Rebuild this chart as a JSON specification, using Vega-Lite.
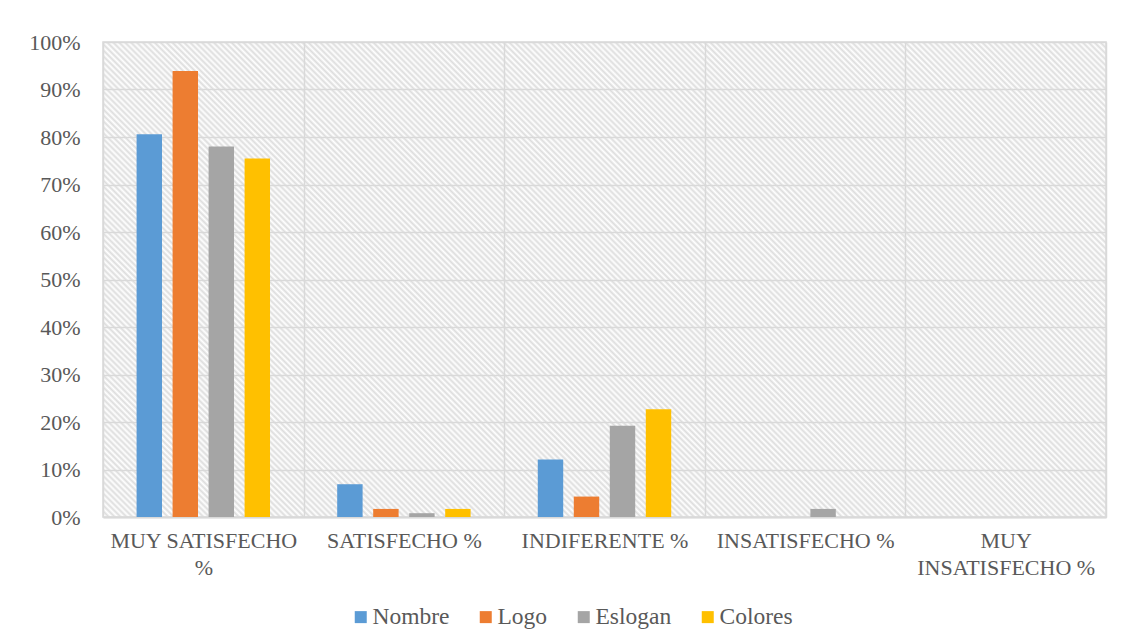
{
  "$schema": "https://vega.github.io/schema/vega-lite/v6.json",
  "width": 1003,
  "height": 475,
  "autosize": {"type": "none"},
  "padding": {"left": 103, "top": 42, "right": 16, "bottom": 127},
  "background": "#ffffff",
  "config": {
    "font": "'Liberation Serif', 'Times New Roman', serif",
    "view": {
      "stroke": "#d9d9d9",
      "strokeWidth": 1.5,
      "fill": {
        "gradient": "linear",
        "x1": 0, "y1": 1, "x2": 1.2036, "y2": 0.43,
        "stops": [
{"offset":0,"color":"#ddd"},{"offset":0.002,"color":"#fff"},{"offset":0.004,"color":"#ddd"},{"offset":0.006,"color":"#fff"},{"offset":0.008,"color":"#ddd"},{"offset":0.01,"color":"#fff"},{"offset":0.012,"color":"#ddd"},{"offset":0.014,"color":"#fff"},{"offset":0.016,"color":"#ddd"},{"offset":0.018,"color":"#fff"},
{"offset":0.02,"color":"#ddd"},{"offset":0.022,"color":"#fff"},{"offset":0.024,"color":"#ddd"},{"offset":0.026,"color":"#fff"},{"offset":0.028,"color":"#ddd"},{"offset":0.03,"color":"#fff"},{"offset":0.032,"color":"#ddd"},{"offset":0.034,"color":"#fff"},{"offset":0.036,"color":"#ddd"},{"offset":0.038,"color":"#fff"},
{"offset":0.04,"color":"#ddd"},{"offset":0.042,"color":"#fff"},{"offset":0.044,"color":"#ddd"},{"offset":0.046,"color":"#fff"},{"offset":0.048,"color":"#ddd"},{"offset":0.05,"color":"#fff"},{"offset":0.052,"color":"#ddd"},{"offset":0.054,"color":"#fff"},{"offset":0.056,"color":"#ddd"},{"offset":0.058,"color":"#fff"},
{"offset":0.06,"color":"#ddd"},{"offset":0.062,"color":"#fff"},{"offset":0.064,"color":"#ddd"},{"offset":0.066,"color":"#fff"},{"offset":0.068,"color":"#ddd"},{"offset":0.07,"color":"#fff"},{"offset":0.072,"color":"#ddd"},{"offset":0.074,"color":"#fff"},{"offset":0.076,"color":"#ddd"},{"offset":0.078,"color":"#fff"},
{"offset":0.08,"color":"#ddd"},{"offset":0.082,"color":"#fff"},{"offset":0.084,"color":"#ddd"},{"offset":0.086,"color":"#fff"},{"offset":0.088,"color":"#ddd"},{"offset":0.09,"color":"#fff"},{"offset":0.092,"color":"#ddd"},{"offset":0.094,"color":"#fff"},{"offset":0.096,"color":"#ddd"},{"offset":0.098,"color":"#fff"},
{"offset":0.1,"color":"#ddd"},{"offset":0.102,"color":"#fff"},{"offset":0.104,"color":"#ddd"},{"offset":0.106,"color":"#fff"},{"offset":0.108,"color":"#ddd"},{"offset":0.11,"color":"#fff"},{"offset":0.112,"color":"#ddd"},{"offset":0.114,"color":"#fff"},{"offset":0.116,"color":"#ddd"},{"offset":0.118,"color":"#fff"},
{"offset":0.12,"color":"#ddd"},{"offset":0.122,"color":"#fff"},{"offset":0.124,"color":"#ddd"},{"offset":0.126,"color":"#fff"},{"offset":0.128,"color":"#ddd"},{"offset":0.13,"color":"#fff"},{"offset":0.132,"color":"#ddd"},{"offset":0.134,"color":"#fff"},{"offset":0.136,"color":"#ddd"},{"offset":0.138,"color":"#fff"},
{"offset":0.14,"color":"#ddd"},{"offset":0.142,"color":"#fff"},{"offset":0.144,"color":"#ddd"},{"offset":0.146,"color":"#fff"},{"offset":0.148,"color":"#ddd"},{"offset":0.15,"color":"#fff"},{"offset":0.152,"color":"#ddd"},{"offset":0.154,"color":"#fff"},{"offset":0.156,"color":"#ddd"},{"offset":0.158,"color":"#fff"},
{"offset":0.16,"color":"#ddd"},{"offset":0.162,"color":"#fff"},{"offset":0.164,"color":"#ddd"},{"offset":0.166,"color":"#fff"},{"offset":0.168,"color":"#ddd"},{"offset":0.17,"color":"#fff"},{"offset":0.172,"color":"#ddd"},{"offset":0.174,"color":"#fff"},{"offset":0.176,"color":"#ddd"},{"offset":0.178,"color":"#fff"},
{"offset":0.18,"color":"#ddd"},{"offset":0.182,"color":"#fff"},{"offset":0.184,"color":"#ddd"},{"offset":0.186,"color":"#fff"},{"offset":0.188,"color":"#ddd"},{"offset":0.19,"color":"#fff"},{"offset":0.192,"color":"#ddd"},{"offset":0.194,"color":"#fff"},{"offset":0.196,"color":"#ddd"},{"offset":0.198,"color":"#fff"},
{"offset":0.2,"color":"#ddd"},{"offset":0.202,"color":"#fff"},{"offset":0.204,"color":"#ddd"},{"offset":0.206,"color":"#fff"},{"offset":0.208,"color":"#ddd"},{"offset":0.21,"color":"#fff"},{"offset":0.212,"color":"#ddd"},{"offset":0.214,"color":"#fff"},{"offset":0.216,"color":"#ddd"},{"offset":0.218,"color":"#fff"},
{"offset":0.22,"color":"#ddd"},{"offset":0.222,"color":"#fff"},{"offset":0.224,"color":"#ddd"},{"offset":0.226,"color":"#fff"},{"offset":0.228,"color":"#ddd"},{"offset":0.23,"color":"#fff"},{"offset":0.232,"color":"#ddd"},{"offset":0.234,"color":"#fff"},{"offset":0.236,"color":"#ddd"},{"offset":0.238,"color":"#fff"},
{"offset":0.24,"color":"#ddd"},{"offset":0.242,"color":"#fff"},{"offset":0.244,"color":"#ddd"},{"offset":0.246,"color":"#fff"},{"offset":0.248,"color":"#ddd"},{"offset":0.25,"color":"#fff"},{"offset":0.252,"color":"#ddd"},{"offset":0.254,"color":"#fff"},{"offset":0.256,"color":"#ddd"},{"offset":0.258,"color":"#fff"},
{"offset":0.26,"color":"#ddd"},{"offset":0.262,"color":"#fff"},{"offset":0.264,"color":"#ddd"},{"offset":0.266,"color":"#fff"},{"offset":0.268,"color":"#ddd"},{"offset":0.27,"color":"#fff"},{"offset":0.272,"color":"#ddd"},{"offset":0.274,"color":"#fff"},{"offset":0.276,"color":"#ddd"},{"offset":0.278,"color":"#fff"},
{"offset":0.28,"color":"#ddd"},{"offset":0.282,"color":"#fff"},{"offset":0.284,"color":"#ddd"},{"offset":0.286,"color":"#fff"},{"offset":0.288,"color":"#ddd"},{"offset":0.29,"color":"#fff"},{"offset":0.292,"color":"#ddd"},{"offset":0.294,"color":"#fff"},{"offset":0.296,"color":"#ddd"},{"offset":0.298,"color":"#fff"},
{"offset":0.3,"color":"#ddd"},{"offset":0.302,"color":"#fff"},{"offset":0.304,"color":"#ddd"},{"offset":0.306,"color":"#fff"},{"offset":0.308,"color":"#ddd"},{"offset":0.31,"color":"#fff"},{"offset":0.312,"color":"#ddd"},{"offset":0.314,"color":"#fff"},{"offset":0.316,"color":"#ddd"},{"offset":0.318,"color":"#fff"},
{"offset":0.32,"color":"#ddd"},{"offset":0.322,"color":"#fff"},{"offset":0.324,"color":"#ddd"},{"offset":0.326,"color":"#fff"},{"offset":0.328,"color":"#ddd"},{"offset":0.33,"color":"#fff"},{"offset":0.332,"color":"#ddd"},{"offset":0.334,"color":"#fff"},{"offset":0.336,"color":"#ddd"},{"offset":0.338,"color":"#fff"},
{"offset":0.34,"color":"#ddd"},{"offset":0.342,"color":"#fff"},{"offset":0.344,"color":"#ddd"},{"offset":0.346,"color":"#fff"},{"offset":0.348,"color":"#ddd"},{"offset":0.35,"color":"#fff"},{"offset":0.352,"color":"#ddd"},{"offset":0.354,"color":"#fff"},{"offset":0.356,"color":"#ddd"},{"offset":0.358,"color":"#fff"},
{"offset":0.36,"color":"#ddd"},{"offset":0.362,"color":"#fff"},{"offset":0.364,"color":"#ddd"},{"offset":0.366,"color":"#fff"},{"offset":0.368,"color":"#ddd"},{"offset":0.37,"color":"#fff"},{"offset":0.372,"color":"#ddd"},{"offset":0.374,"color":"#fff"},{"offset":0.376,"color":"#ddd"},{"offset":0.378,"color":"#fff"},
{"offset":0.38,"color":"#ddd"},{"offset":0.382,"color":"#fff"},{"offset":0.384,"color":"#ddd"},{"offset":0.386,"color":"#fff"},{"offset":0.388,"color":"#ddd"},{"offset":0.39,"color":"#fff"},{"offset":0.392,"color":"#ddd"},{"offset":0.394,"color":"#fff"},{"offset":0.396,"color":"#ddd"},{"offset":0.398,"color":"#fff"},
{"offset":0.4,"color":"#ddd"},{"offset":0.402,"color":"#fff"},{"offset":0.404,"color":"#ddd"},{"offset":0.406,"color":"#fff"},{"offset":0.408,"color":"#ddd"},{"offset":0.41,"color":"#fff"},{"offset":0.412,"color":"#ddd"},{"offset":0.414,"color":"#fff"},{"offset":0.416,"color":"#ddd"},{"offset":0.418,"color":"#fff"},
{"offset":0.42,"color":"#ddd"},{"offset":0.422,"color":"#fff"},{"offset":0.424,"color":"#ddd"},{"offset":0.426,"color":"#fff"},{"offset":0.428,"color":"#ddd"},{"offset":0.43,"color":"#fff"},{"offset":0.432,"color":"#ddd"},{"offset":0.434,"color":"#fff"},{"offset":0.436,"color":"#ddd"},{"offset":0.438,"color":"#fff"},
{"offset":0.44,"color":"#ddd"},{"offset":0.442,"color":"#fff"},{"offset":0.444,"color":"#ddd"},{"offset":0.446,"color":"#fff"},{"offset":0.448,"color":"#ddd"},{"offset":0.45,"color":"#fff"},{"offset":0.452,"color":"#ddd"},{"offset":0.454,"color":"#fff"},{"offset":0.456,"color":"#ddd"},{"offset":0.458,"color":"#fff"},
{"offset":0.46,"color":"#ddd"},{"offset":0.462,"color":"#fff"},{"offset":0.464,"color":"#ddd"},{"offset":0.466,"color":"#fff"},{"offset":0.468,"color":"#ddd"},{"offset":0.47,"color":"#fff"},{"offset":0.472,"color":"#ddd"},{"offset":0.474,"color":"#fff"},{"offset":0.476,"color":"#ddd"},{"offset":0.478,"color":"#fff"},
{"offset":0.48,"color":"#ddd"},{"offset":0.482,"color":"#fff"},{"offset":0.484,"color":"#ddd"},{"offset":0.486,"color":"#fff"},{"offset":0.488,"color":"#ddd"},{"offset":0.49,"color":"#fff"},{"offset":0.492,"color":"#ddd"},{"offset":0.494,"color":"#fff"},{"offset":0.496,"color":"#ddd"},{"offset":0.498,"color":"#fff"},
{"offset":0.5,"color":"#ddd"},{"offset":0.502,"color":"#fff"},{"offset":0.504,"color":"#ddd"},{"offset":0.506,"color":"#fff"},{"offset":0.508,"color":"#ddd"},{"offset":0.51,"color":"#fff"},{"offset":0.512,"color":"#ddd"},{"offset":0.514,"color":"#fff"},{"offset":0.516,"color":"#ddd"},{"offset":0.518,"color":"#fff"},
{"offset":0.52,"color":"#ddd"},{"offset":0.522,"color":"#fff"},{"offset":0.524,"color":"#ddd"},{"offset":0.526,"color":"#fff"},{"offset":0.528,"color":"#ddd"},{"offset":0.53,"color":"#fff"},{"offset":0.532,"color":"#ddd"},{"offset":0.534,"color":"#fff"},{"offset":0.536,"color":"#ddd"},{"offset":0.538,"color":"#fff"},
{"offset":0.54,"color":"#ddd"},{"offset":0.542,"color":"#fff"},{"offset":0.544,"color":"#ddd"},{"offset":0.546,"color":"#fff"},{"offset":0.548,"color":"#ddd"},{"offset":0.55,"color":"#fff"},{"offset":0.552,"color":"#ddd"},{"offset":0.554,"color":"#fff"},{"offset":0.556,"color":"#ddd"},{"offset":0.558,"color":"#fff"},
{"offset":0.56,"color":"#ddd"},{"offset":0.562,"color":"#fff"},{"offset":0.564,"color":"#ddd"},{"offset":0.566,"color":"#fff"},{"offset":0.568,"color":"#ddd"},{"offset":0.57,"color":"#fff"},{"offset":0.572,"color":"#ddd"},{"offset":0.574,"color":"#fff"},{"offset":0.576,"color":"#ddd"},{"offset":0.578,"color":"#fff"},
{"offset":0.58,"color":"#ddd"},{"offset":0.582,"color":"#fff"},{"offset":0.584,"color":"#ddd"},{"offset":0.586,"color":"#fff"},{"offset":0.588,"color":"#ddd"},{"offset":0.59,"color":"#fff"},{"offset":0.592,"color":"#ddd"},{"offset":0.594,"color":"#fff"},{"offset":0.596,"color":"#ddd"},{"offset":0.598,"color":"#fff"},
{"offset":0.6,"color":"#ddd"},{"offset":0.602,"color":"#fff"},{"offset":0.604,"color":"#ddd"},{"offset":0.606,"color":"#fff"},{"offset":0.608,"color":"#ddd"},{"offset":0.61,"color":"#fff"},{"offset":0.612,"color":"#ddd"},{"offset":0.614,"color":"#fff"},{"offset":0.616,"color":"#ddd"},{"offset":0.618,"color":"#fff"},
{"offset":0.62,"color":"#ddd"},{"offset":0.622,"color":"#fff"},{"offset":0.624,"color":"#ddd"},{"offset":0.626,"color":"#fff"},{"offset":0.628,"color":"#ddd"},{"offset":0.63,"color":"#fff"},{"offset":0.632,"color":"#ddd"},{"offset":0.634,"color":"#fff"},{"offset":0.636,"color":"#ddd"},{"offset":0.638,"color":"#fff"},
{"offset":0.64,"color":"#ddd"},{"offset":0.642,"color":"#fff"},{"offset":0.644,"color":"#ddd"},{"offset":0.646,"color":"#fff"},{"offset":0.648,"color":"#ddd"},{"offset":0.65,"color":"#fff"},{"offset":0.652,"color":"#ddd"},{"offset":0.654,"color":"#fff"},{"offset":0.656,"color":"#ddd"},{"offset":0.658,"color":"#fff"},
{"offset":0.66,"color":"#ddd"},{"offset":0.662,"color":"#fff"},{"offset":0.664,"color":"#ddd"},{"offset":0.666,"color":"#fff"},{"offset":0.668,"color":"#ddd"},{"offset":0.67,"color":"#fff"},{"offset":0.672,"color":"#ddd"},{"offset":0.674,"color":"#fff"},{"offset":0.676,"color":"#ddd"},{"offset":0.678,"color":"#fff"},
{"offset":0.68,"color":"#ddd"},{"offset":0.682,"color":"#fff"},{"offset":0.684,"color":"#ddd"},{"offset":0.686,"color":"#fff"},{"offset":0.688,"color":"#ddd"},{"offset":0.69,"color":"#fff"},{"offset":0.692,"color":"#ddd"},{"offset":0.694,"color":"#fff"},{"offset":0.696,"color":"#ddd"},{"offset":0.698,"color":"#fff"},
{"offset":0.7,"color":"#ddd"},{"offset":0.702,"color":"#fff"},{"offset":0.704,"color":"#ddd"},{"offset":0.706,"color":"#fff"},{"offset":0.708,"color":"#ddd"},{"offset":0.71,"color":"#fff"},{"offset":0.712,"color":"#ddd"},{"offset":0.714,"color":"#fff"},{"offset":0.716,"color":"#ddd"},{"offset":0.718,"color":"#fff"},
{"offset":0.72,"color":"#ddd"},{"offset":0.722,"color":"#fff"},{"offset":0.724,"color":"#ddd"},{"offset":0.726,"color":"#fff"},{"offset":0.728,"color":"#ddd"},{"offset":0.73,"color":"#fff"},{"offset":0.732,"color":"#ddd"},{"offset":0.734,"color":"#fff"},{"offset":0.736,"color":"#ddd"},{"offset":0.738,"color":"#fff"},
{"offset":0.74,"color":"#ddd"},{"offset":0.742,"color":"#fff"},{"offset":0.744,"color":"#ddd"},{"offset":0.746,"color":"#fff"},{"offset":0.748,"color":"#ddd"},{"offset":0.75,"color":"#fff"},{"offset":0.752,"color":"#ddd"},{"offset":0.754,"color":"#fff"},{"offset":0.756,"color":"#ddd"},{"offset":0.758,"color":"#fff"},
{"offset":0.76,"color":"#ddd"},{"offset":0.762,"color":"#fff"},{"offset":0.764,"color":"#ddd"},{"offset":0.766,"color":"#fff"},{"offset":0.768,"color":"#ddd"},{"offset":0.77,"color":"#fff"},{"offset":0.772,"color":"#ddd"},{"offset":0.774,"color":"#fff"},{"offset":0.776,"color":"#ddd"},{"offset":0.778,"color":"#fff"},
{"offset":0.78,"color":"#ddd"},{"offset":0.782,"color":"#fff"},{"offset":0.784,"color":"#ddd"},{"offset":0.786,"color":"#fff"},{"offset":0.788,"color":"#ddd"},{"offset":0.79,"color":"#fff"},{"offset":0.792,"color":"#ddd"},{"offset":0.794,"color":"#fff"},{"offset":0.796,"color":"#ddd"},{"offset":0.798,"color":"#fff"},
{"offset":0.8,"color":"#ddd"},{"offset":0.802,"color":"#fff"},{"offset":0.804,"color":"#ddd"},{"offset":0.806,"color":"#fff"},{"offset":0.808,"color":"#ddd"},{"offset":0.81,"color":"#fff"},{"offset":0.812,"color":"#ddd"},{"offset":0.814,"color":"#fff"},{"offset":0.816,"color":"#ddd"},{"offset":0.818,"color":"#fff"},
{"offset":0.82,"color":"#ddd"},{"offset":0.822,"color":"#fff"},{"offset":0.824,"color":"#ddd"},{"offset":0.826,"color":"#fff"},{"offset":0.828,"color":"#ddd"},{"offset":0.83,"color":"#fff"},{"offset":0.832,"color":"#ddd"},{"offset":0.834,"color":"#fff"},{"offset":0.836,"color":"#ddd"},{"offset":0.838,"color":"#fff"},
{"offset":0.84,"color":"#ddd"},{"offset":0.842,"color":"#fff"},{"offset":0.844,"color":"#ddd"},{"offset":0.846,"color":"#fff"},{"offset":0.848,"color":"#ddd"},{"offset":0.85,"color":"#fff"},{"offset":0.852,"color":"#ddd"},{"offset":0.854,"color":"#fff"},{"offset":0.856,"color":"#ddd"},{"offset":0.858,"color":"#fff"},
{"offset":0.86,"color":"#ddd"},{"offset":0.862,"color":"#fff"},{"offset":0.864,"color":"#ddd"},{"offset":0.866,"color":"#fff"},{"offset":0.868,"color":"#ddd"},{"offset":0.87,"color":"#fff"},{"offset":0.872,"color":"#ddd"},{"offset":0.874,"color":"#fff"},{"offset":0.876,"color":"#ddd"},{"offset":0.878,"color":"#fff"},
{"offset":0.88,"color":"#ddd"},{"offset":0.882,"color":"#fff"},{"offset":0.884,"color":"#ddd"},{"offset":0.886,"color":"#fff"},{"offset":0.888,"color":"#ddd"},{"offset":0.89,"color":"#fff"},{"offset":0.892,"color":"#ddd"},{"offset":0.894,"color":"#fff"},{"offset":0.896,"color":"#ddd"},{"offset":0.898,"color":"#fff"},
{"offset":0.9,"color":"#ddd"},{"offset":0.902,"color":"#fff"},{"offset":0.904,"color":"#ddd"},{"offset":0.906,"color":"#fff"},{"offset":0.908,"color":"#ddd"},{"offset":0.91,"color":"#fff"},{"offset":0.912,"color":"#ddd"},{"offset":0.914,"color":"#fff"},{"offset":0.916,"color":"#ddd"},{"offset":0.918,"color":"#fff"},
{"offset":0.92,"color":"#ddd"},{"offset":0.922,"color":"#fff"},{"offset":0.924,"color":"#ddd"},{"offset":0.926,"color":"#fff"},{"offset":0.928,"color":"#ddd"},{"offset":0.93,"color":"#fff"},{"offset":0.932,"color":"#ddd"},{"offset":0.934,"color":"#fff"},{"offset":0.936,"color":"#ddd"},{"offset":0.938,"color":"#fff"},
{"offset":0.94,"color":"#ddd"},{"offset":0.942,"color":"#fff"},{"offset":0.944,"color":"#ddd"},{"offset":0.946,"color":"#fff"},{"offset":0.948,"color":"#ddd"},{"offset":0.95,"color":"#fff"},{"offset":0.952,"color":"#ddd"},{"offset":0.954,"color":"#fff"},{"offset":0.956,"color":"#ddd"},{"offset":0.958,"color":"#fff"},
{"offset":0.96,"color":"#ddd"},{"offset":0.962,"color":"#fff"},{"offset":0.964,"color":"#ddd"},{"offset":0.966,"color":"#fff"},{"offset":0.968,"color":"#ddd"},{"offset":0.97,"color":"#fff"},{"offset":0.972,"color":"#ddd"},{"offset":0.974,"color":"#fff"},{"offset":0.976,"color":"#ddd"},{"offset":0.978,"color":"#fff"},
{"offset":0.98,"color":"#ddd"},{"offset":0.982,"color":"#fff"},{"offset":0.984,"color":"#ddd"},{"offset":0.986,"color":"#fff"},{"offset":0.988,"color":"#ddd"},{"offset":0.99,"color":"#fff"},{"offset":0.992,"color":"#ddd"},{"offset":0.994,"color":"#fff"},{"offset":0.996,"color":"#ddd"},{"offset":0.998,"color":"#fff"},
{"offset":1,"color":"#ddd"}
        ]
      }
    },
    "axis": {
      "labelFont": "'Liberation Serif', 'Times New Roman', serif",
      "labelColor": "#595959",
      "labelFontSize": 22,
      "gridColor": "#d9d9d9",
      "gridWidth": 1.5,
      "ticks": false,
      "title": null
    },
    "legend": {
      "labelFont": "'Liberation Serif', 'Times New Roman', serif",
      "labelColor": "#595959",
      "labelFontSize": 23.5
    }
  },
  "data": {
    "values": [
      {"categoria": "MUY SATISFECHO %", "serie": "Nombre", "valor": 0.806},
      {"categoria": "MUY SATISFECHO %", "serie": "Logo", "valor": 0.939},
      {"categoria": "MUY SATISFECHO %", "serie": "Eslogan", "valor": 0.780},
      {"categoria": "MUY SATISFECHO %", "serie": "Colores", "valor": 0.755},
      {"categoria": "SATISFECHO %", "serie": "Nombre", "valor": 0.069},
      {"categoria": "SATISFECHO %", "serie": "Logo", "valor": 0.017},
      {"categoria": "SATISFECHO %", "serie": "Eslogan", "valor": 0.008},
      {"categoria": "SATISFECHO %", "serie": "Colores", "valor": 0.017},
      {"categoria": "INDIFERENTE %", "serie": "Nombre", "valor": 0.121},
      {"categoria": "INDIFERENTE %", "serie": "Logo", "valor": 0.043},
      {"categoria": "INDIFERENTE %", "serie": "Eslogan", "valor": 0.192},
      {"categoria": "INDIFERENTE %", "serie": "Colores", "valor": 0.227},
      {"categoria": "INSATISFECHO %", "serie": "Nombre", "valor": 0},
      {"categoria": "INSATISFECHO %", "serie": "Logo", "valor": 0},
      {"categoria": "INSATISFECHO %", "serie": "Eslogan", "valor": 0.017},
      {"categoria": "INSATISFECHO %", "serie": "Colores", "valor": 0},
      {"categoria": "MUY INSATISFECHO %", "serie": "Nombre", "valor": 0},
      {"categoria": "MUY INSATISFECHO %", "serie": "Logo", "valor": 0},
      {"categoria": "MUY INSATISFECHO %", "serie": "Eslogan", "valor": 0},
      {"categoria": "MUY INSATISFECHO %", "serie": "Colores", "valor": 0}
    ]
  },
  "mark": {"type": "bar"},
  "encoding": {
    "x": {
      "field": "categoria",
      "type": "nominal",
      "sort": ["MUY SATISFECHO %", "SATISFECHO %", "INDIFERENTE %", "INSATISFECHO %", "MUY INSATISFECHO %"],
      "scale": {"paddingInner": 0, "paddingOuter": 0},
      "axis": {
        "labelAngle": 0,
        "labelPadding": 13,
        "labelBaseline": "top",
        "labelLineHeight": 27,
        "labelLimit": 300,
        "labelExpr": "datum.value == 'MUY SATISFECHO %' ? ['MUY SATISFECHO', '%'] : datum.value == 'MUY INSATISFECHO %' ? ['MUY', 'INSATISFECHO %'] : datum.value",
        "grid": true,
        "tickBand": "extent",
        "domain": true,
        "domainColor": "#d9d9d9",
        "domainWidth": 2
      }
    },
    "xOffset": {
      "field": "serie",
      "type": "nominal",
      "sort": ["Nombre", "Logo", "Eslogan", "Colores"],
      "scale": {"paddingInner": 0.294, "paddingOuter": 0.933}
    },
    "y": {
      "field": "valor",
      "type": "quantitative",
      "scale": {"domain": [0, 1]},
      "axis": {
        "values": [0, 0.1, 0.2, 0.3, 0.4, 0.5, 0.6, 0.7, 0.8, 0.9, 1],
        "format": ".0%",
        "labelPadding": 23,
        "domain": false,
        "grid": true
      }
    },
    "color": {
      "field": "serie",
      "type": "nominal",
      "sort": ["Nombre", "Logo", "Eslogan", "Colores"],
      "scale": {
        "domain": ["Nombre", "Logo", "Eslogan", "Colores"],
        "range": ["#5b9bd5", "#ed7d31", "#a5a5a5", "#ffc000"]
      },
      "legend": {
        "title": null,
        "orient": "none",
        "direction": "horizontal",
        "legendX": 246,
        "legendY": 563,
        "padding": 0,
        "symbolType": "square",
        "symbolSize": 144,
        "symbolStrokeWidth": 0,
        "labelOffset": 0,
        "columnPadding": 24
      }
    }
  }
}
